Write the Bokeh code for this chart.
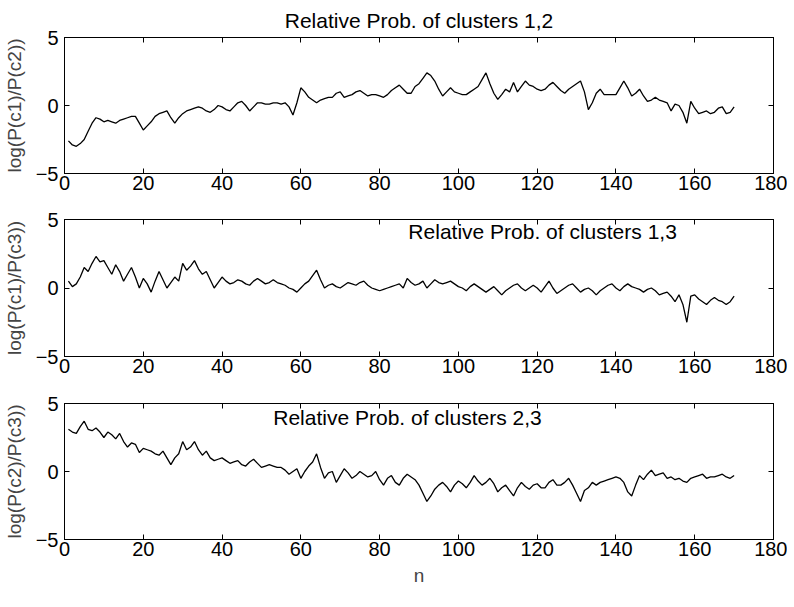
from bokeh.plotting import figure
from bokeh.models import Range1d, LinearAxis, Label, FixedTicker
from bokeh.layouts import column
from bokeh.embed import file_html
from bokeh.resources import INLINE

# ---------------- data ----------------
n = list(range(1, 171))

r12 = [-2.6, -2.9, -3.0, -2.8, -2.5, -1.9, -1.3, -0.9, -1.0, -1.2,
       -1.1, -1.2, -1.3, -1.1, -1.0, -0.9, -0.8, -0.8, -1.3, -1.8,
       -1.5, -1.2, -0.8, -0.6, -0.5, -0.4, -0.9, -1.3, -0.9, -0.6,
       -0.4, -0.3, -0.2, -0.1, -0.2, -0.4, -0.5, -0.3, 0.0, -0.1,
       -0.3, -0.4, -0.1, 0.2, 0.3, 0.0, -0.4, -0.1, 0.2, 0.2,
       0.1, 0.1, 0.2, 0.2, 0.1, 0.2, -0.1, -0.7, 0.2, 1.3,
       1.0, 0.6, 0.4, 0.2, 0.4, 0.5, 0.6, 0.6, 0.9, 1.0,
       0.6, 0.7, 0.8, 1.0, 1.1, 0.9, 0.7, 0.8, 0.8, 0.7,
       0.6, 0.8, 1.1, 1.3, 1.5, 1.2, 0.9, 0.9, 1.4, 1.6,
       2.0, 2.4, 2.2, 1.8, 1.2, 0.7, 1.0, 1.3, 1.0, 0.9,
       0.8, 0.8, 1.0, 1.2, 1.4, 1.9, 2.4, 1.6, 0.9, 0.45,
       0.8, 1.2, 1.0, 1.7, 1.0, 1.4, 1.8, 1.5, 1.4, 1.2,
       1.1, 1.2, 1.5, 1.7, 1.4, 1.1, 0.9, 1.2, 1.4, 1.6,
       1.8, 1.0, -0.3, 0.2, 0.9, 1.2, 0.8, 0.8, 0.8, 0.8,
       1.3, 1.8, 1.3, 0.7, 0.9, 1.2, 0.7, 0.3, 0.4, 0.6,
       0.4, 0.3, 0.2, -0.4, 0.1, 0.0, -0.5, -1.3, 0.3, -0.2,
       -0.6, -0.5, -0.4, -0.6, -0.5, -0.2, -0.1, -0.6, -0.5, -0.1]

r13 = [0.5, 0.1, 0.3, 0.8, 1.5, 1.2, 1.8, 2.3, 1.9, 2.0,
       1.5, 1.0, 1.7, 1.2, 0.5, 1.0, 1.5, 0.8, 0.0, 0.7,
       0.3, -0.3, 0.5, 1.2, 0.6, 0.0, 0.4, 0.8, 0.5, 1.8,
       1.3, 1.6, 2.0, 1.4, 1.0, 1.2, 0.6, 0.0, 0.4, 0.8,
       0.5, 0.3, 0.4, 0.6, 0.5, 0.3, 0.2, 0.5, 0.7, 0.5,
       0.3, 0.4, 0.6, 0.4, 0.3, 0.2, 0.0, -0.1, -0.3, 0.0,
       0.3, 0.5, 0.9, 1.3, 0.6, 0.0, 0.2, 0.3, 0.1, 0.0,
       0.2, 0.4, 0.3, 0.2, 0.4, 0.5, 0.2, 0.0, -0.1, -0.2,
       -0.1, 0.0, 0.1, 0.2, 0.3, 0.0, 0.7, 0.4, 0.2, 0.3,
       0.5, 0.0, 0.3, 0.6, 0.4, 0.3, 0.4, 0.5, 0.3, 0.1,
       0.0, -0.2, 0.1, 0.3, 0.1, -0.1, -0.3, -0.1, 0.1, -0.2,
       -0.5, -0.2, 0.0, 0.2, 0.3, 0.0, -0.2, 0.0, 0.2, 0.0,
       -0.3, 0.1, 0.5, 0.0, -0.4, -0.2, 0.0, 0.2, 0.3, 0.0,
       -0.3, -0.1, 0.0, -0.2, -0.5, -0.2, 0.0, 0.2, 0.3, 0.0,
       -0.2, 0.1, 0.3, 0.1, 0.0, -0.1, -0.3, -0.1, 0.0, -0.2,
       -0.5, -0.4, -0.3, -0.6, -1.0, -0.5, -1.2, -2.5, -0.6, -0.5,
       -0.8, -1.0, -1.2, -0.9, -0.7, -0.9, -1.0, -1.2, -1.0, -0.6]

r23 = [3.1, 2.9, 2.8, 3.3, 3.7, 3.1, 3.0, 3.2, 2.9, 2.5,
       2.9, 2.7, 2.4, 2.8, 2.2, 1.8, 2.1, 2.0, 1.4, 1.7,
       1.6, 1.5, 1.3, 1.2, 1.5, 1.0, 0.5, 1.0, 1.3, 2.2,
       1.6, 1.8, 2.2, 1.6, 1.2, 1.5, 1.0, 0.8, 0.9, 1.0,
       0.8, 0.6, 0.7, 0.8, 0.5, 0.4, 0.7, 0.9, 0.6, 0.3,
       0.4, 0.5, 0.4, 0.3, 0.3, 0.1, -0.2, 0.0, 0.2, -0.5,
       0.0, 0.4, 0.7, 1.3, 0.3, -0.5, -0.1, 0.0, -0.8, -0.3,
       0.2, -0.1, -0.5, -0.3, 0.0, -0.2, -0.4, -0.3, 0.0, -0.6,
       -1.0, -0.5, -0.3, -0.8, -1.0, -0.5, -0.2, -0.4, -0.6, -1.0,
       -1.6, -2.2, -1.8, -1.3, -1.0, -0.8, -1.1, -1.5, -1.0, -0.7,
       -0.9, -1.2, -0.8, -0.3, -0.7, -1.0, -0.8, -0.5, -0.9, -1.5,
       -1.2, -1.0, -1.4, -1.8, -1.2, -0.8, -1.1, -1.3, -1.0, -0.9,
       -1.2, -1.2, -0.8, -0.6, -1.0, -1.0, -0.8, -0.5, -1.0, -1.6,
       -2.2, -1.4, -1.2, -0.8, -1.0, -0.8, -0.7, -0.6, -0.5, -0.4,
       -0.5, -0.8, -1.5, -1.8, -1.0, -0.3, -0.6, -0.2, 0.1, -0.3,
       -0.2, -0.1, -0.5, -0.4, -0.6, -0.5, -0.7, -0.8, -0.5, -0.4,
       -0.3, -0.2, -0.5, -0.4, -0.4, -0.3, -0.2, -0.4, -0.5, -0.3]

titles = ["Relative Prob. of clusters 1,2",
          "Relative Prob. of clusters 1,3",
          "Relative Prob. of clusters 2,3"]
ylabels = ["log(P(c1)/P(c2))", "log(P(c1)/P(c3))", "log(P(c2)/P(c3))"]
x_ticks = [0, 20, 40, 60, 80, 100, 120, 140, 160, 180]
y_ticks = [-5, 0, 5]

FONT = "Liberation Sans"
TICK_SIZE = "20px"
TITLE_SIZE = "21px"
LABEL_SIZE = "19px"


def style_axis(ax, show_labels):
    ax.axis_line_color = "black"
    ax.major_tick_line_color = "black"
    ax.minor_tick_line_color = None
    ax.major_tick_in = 5
    ax.major_tick_out = 0
    ax.major_label_text_font = FONT
    ax.major_label_text_color = "black"
    if show_labels:
        ax.major_label_text_font_size = TICK_SIZE
    else:
        ax.major_label_text_font_size = "1px"
        ax.major_label_text_color = None
        ax.major_label_standoff = 0


def make_panel(vals, ylabel, top, fh, bottom, xlabel=None):
    p = figure(frame_width=709, frame_height=fh,
               min_border_left=55, min_border_right=14,
               min_border_top=top, min_border_bottom=bottom,
               x_range=Range1d(0, 180), y_range=Range1d(-5, 5),
               output_backend="svg", toolbar_location=None, tools="")
    p.line(n, vals, line_color="black", line_width=1.3)
    p.outline_line_color = "black"
    p.outline_line_width = 1
    p.background_fill_color = "white"
    p.border_fill_color = "white"
    p.xgrid.visible = False
    p.ygrid.visible = False

    xa = p.xaxis[0]
    xa.ticker = FixedTicker(ticks=x_ticks)
    style_axis(xa, True)
    xa.major_label_standoff = 2
    ya = p.yaxis[0]
    ya.ticker = FixedTicker(ticks=y_ticks)
    style_axis(ya, True)
    ya.major_label_standoff = 6
    ya.axis_label = ylabel
    ya.axis_label_text_font = FONT
    ya.axis_label_text_font_size = LABEL_SIZE
    ya.axis_label_text_font_style = "normal"
    ya.axis_label_standoff = 8
    if xlabel:
        xa.axis_label = xlabel
        xa.axis_label_text_font = FONT
        xa.axis_label_text_font_size = LABEL_SIZE
        xa.axis_label_text_font_style = "normal"
        xa.axis_label_standoff = 6

    ra = LinearAxis(ticker=FixedTicker(ticks=y_ticks))
    style_axis(ra, False)
    p.add_layout(ra, "right")
    ta = LinearAxis(ticker=FixedTicker(ticks=x_ticks))
    style_axis(ta, False)
    p.add_layout(ta, "above")
    return p


p1 = make_panel(r12, ylabels[0], 37, 136, 26)
p2 = make_panel(r13, ylabels[1], 20, 137, 26)
p3 = make_panel(r23, ylabels[2], 21, 136, 52, xlabel="n")

p1.title.text = titles[0]
p1.title.align = "center"
p1.title.text_font = FONT
p1.title.text_font_size = TITLE_SIZE
p1.title.text_font_style = "normal"
p1.title.text_color = "black"
p1.title.standoff = 12

p2.add_layout(Label(x=87.3, y=5, y_offset=0, text=titles[1],
                    text_align="left", text_baseline="top",
                    text_font=FONT, text_font_size=TITLE_SIZE, text_color="black"))
p3.add_layout(Label(x=53, y=5, y_offset=-2, text=titles[2],
                    text_align="left", text_baseline="top",
                    text_font=FONT, text_font_size=TITLE_SIZE, text_color="black"))

layout = column(p1, p2, p3, spacing=0)
open("out.html", "w").write(file_html(layout, INLINE))
